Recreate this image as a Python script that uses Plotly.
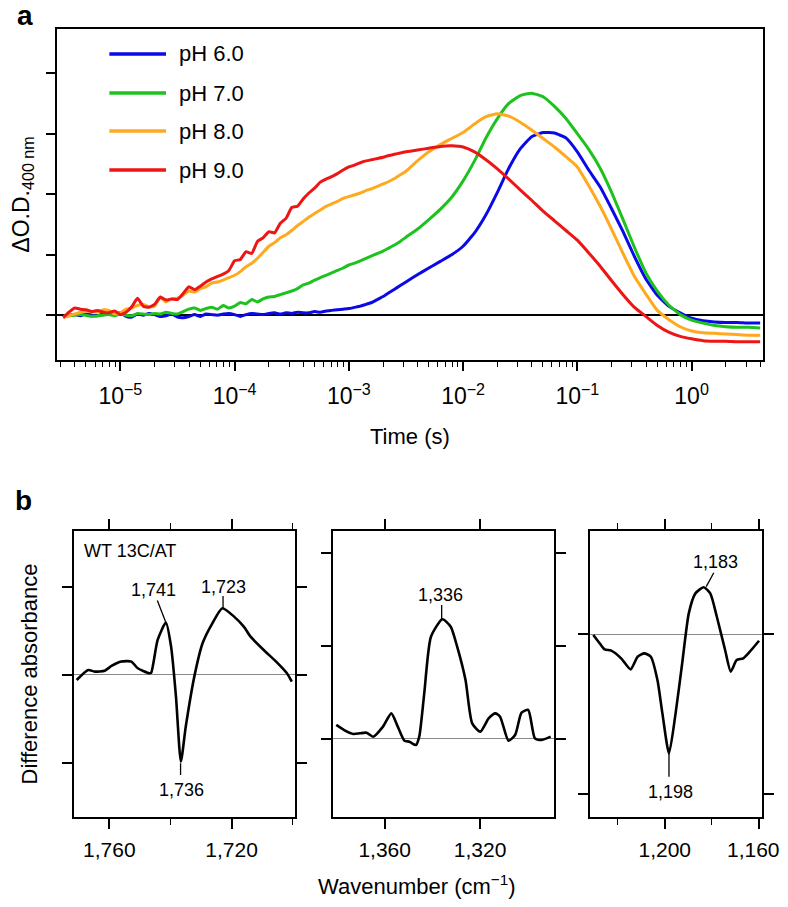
import plotly.graph_objects as go

# ---------------- Panel a data ----------------
LOG_TIME = [-5.50, -5.45, -5.40, -5.35, -5.30, -5.25, -5.20, -5.15, -5.10, -5.05,
            -5.00, -4.95, -4.90, -4.85, -4.80, -4.75, -4.70, -4.65, -4.60, -4.55,
            -4.50, -4.45, -4.40, -4.35, -4.30, -4.25, -4.20, -4.15, -4.10, -4.05,
            -4.00, -3.95, -3.90, -3.85, -3.80, -3.75, -3.70, -3.65, -3.60, -3.55,
            -3.50, -3.45, -3.40, -3.35, -3.30, -3.25, -3.20, -3.15, -3.10, -3.05,
            -3.00, -2.95, -2.90, -2.85, -2.80, -2.75, -2.70, -2.65, -2.60, -2.55,
            -2.50, -2.4, -2.3, -2.2, -2.1, -2.0, -1.9, -1.8, -1.7, -1.6,
            -1.5, -1.4, -1.3, -1.2, -1.1, -1.0, -0.9, -0.8, -0.7, -0.6,
            -0.5, -0.4, -0.3, -0.2, -0.1, 0.0, 0.1, 0.2, 0.3, 0.4,
            0.5, 0.6]
TIME_S = [10 ** v for v in LOG_TIME]

PH6 = [-0.02, 0.00, 0.01, -0.01, 0.02, 0.00, -0.01, 0.02, 0.03, 0.01,
       0.04, -0.02, -0.03, 0.02, 0.00, 0.03, 0.01, -0.02, -0.01, 0.02,
       -0.03, -0.04, -0.02, 0.01, -0.02, 0.02, 0.01, 0.00, 0.02, 0.03,
       0.01, -0.02, 0.01, 0.03, 0.02, 0.01, 0.03, 0.04, 0.02, 0.04,
       0.03, 0.05, 0.04, 0.04, 0.06, 0.05, 0.07, 0.08, 0.09, 0.10,
       0.11, 0.13, 0.15, 0.18, 0.21, 0.26, 0.31, 0.37, 0.43, 0.49,
       0.55, 0.67, 0.78, 0.89, 1.00, 1.14, 1.36, 1.66, 2.03, 2.43,
       2.75, 2.95, 3.02, 3.01, 2.93, 2.70, 2.40, 2.12, 1.76, 1.38,
       0.97, 0.60, 0.33, 0.15, 0.04, -0.05, -0.09, -0.11, -0.12, -0.12,
       -0.13, -0.13]
PH7 = [-0.02, -0.01, 0.00, 0.01, 0.00, -0.02, -0.01, 0.00, 0.01, -0.01,
       0.02, 0.00, -0.01, 0.03, 0.02, 0.01, 0.03, 0.02, 0.05, 0.03,
       0.02, 0.06, 0.10, 0.12, 0.08, 0.11, 0.13, 0.10, 0.16, 0.12,
       0.15, 0.21, 0.19, 0.26, 0.22, 0.27, 0.30, 0.31, 0.34, 0.37,
       0.40, 0.44, 0.50, 0.53, 0.58, 0.62, 0.66, 0.70, 0.74, 0.78,
       0.83, 0.86, 0.90, 0.94, 0.98, 1.02, 1.06, 1.11, 1.16, 1.22,
       1.29, 1.42, 1.58, 1.75, 1.95, 2.22, 2.55, 2.93, 3.25, 3.50,
       3.63, 3.67, 3.61, 3.45, 3.25, 3.00, 2.74, 2.43, 2.03, 1.58,
       1.12, 0.70, 0.40, 0.17, 0.01, -0.08, -0.13, -0.17, -0.19, -0.20,
       -0.20, -0.21]
PH8 = [-0.04, -0.01, 0.02, 0.05, 0.07, 0.06, 0.05, 0.09, 0.08, 0.02,
       0.04, 0.10, 0.12, 0.16, 0.18, 0.14, 0.15, 0.30, 0.22, 0.27,
       0.28, 0.33, 0.40, 0.38, 0.44, 0.47, 0.53, 0.55, 0.58, 0.62,
       0.66, 0.72, 0.80, 0.86, 0.94, 1.04, 1.14, 1.20, 1.28, 1.33,
       1.40, 1.48, 1.55, 1.62, 1.68, 1.74, 1.80, 1.84, 1.88, 1.93,
       1.96, 1.99, 2.02, 2.06, 2.09, 2.13, 2.17, 2.21, 2.26, 2.32,
       2.38, 2.55, 2.70, 2.82, 2.92, 3.02, 3.16, 3.28, 3.33, 3.29,
       3.19, 3.06, 2.92, 2.78, 2.62, 2.45, 2.14, 1.80, 1.42, 1.02,
       0.64, 0.35, 0.08, -0.07, -0.19, -0.26, -0.29, -0.30, -0.31, -0.32,
       -0.33, -0.33]
PH9 = [-0.04, 0.05, 0.12, 0.10, 0.09, 0.06, 0.08, 0.05, 0.04, 0.07,
       0.01, 0.05, 0.14, 0.28, 0.15, 0.13, 0.18, 0.30, 0.25, 0.27,
       0.26, 0.36, 0.47, 0.42, 0.48, 0.55, 0.60, 0.64, 0.68, 0.74,
       0.90, 0.92, 1.05, 1.02, 1.22, 1.28, 1.38, 1.36, 1.52, 1.60,
       1.78, 1.80, 1.92, 2.02, 2.10, 2.20, 2.25, 2.29, 2.34, 2.40,
       2.45, 2.48, 2.52, 2.55, 2.57, 2.59, 2.61, 2.64, 2.66, 2.68,
       2.70, 2.73, 2.76, 2.79, 2.80, 2.78, 2.70, 2.57, 2.42, 2.25,
       2.07, 1.90, 1.72, 1.56, 1.40, 1.24, 1.03, 0.81, 0.57, 0.34,
       0.13, -0.02, -0.17, -0.28, -0.35, -0.39, -0.42, -0.43, -0.43, -0.44,
       -0.44, -0.44]

SERIES_NAMES = ["pH 6.0", "pH 7.0", "pH 8.0", "pH 9.0"]
SERIES_COLORS = ["#0a0ae6", "#1ec21e", "#ffaa1e", "#ee1515"]
TIME_TICKS = [1e-5, 1e-4, 1e-3, 1e-2, 1e-1, 1e0]
TIME_TICK_TEXT = ["10<sup>−5</sup>", "10<sup>−4</sup>", "10<sup>−3</sup>",
                  "10<sup>−2</sup>", "10<sup>−1</sup>", "10<sup>0</sup>"]

# ---------------- Panel b data ----------------
WN1 = [1770.7, 1766.9, 1764.8, 1761.5, 1759.3, 1756.1, 1752.8, 1750.7, 1746.9,
       1746.3, 1744.2, 1741.5, 1739.8, 1738.2, 1736.6, 1735.0, 1732.2, 1729.5,
       1726.3, 1723.0, 1719.2, 1716.0, 1713.8, 1709.5, 1705.1, 1701.9, 1700.3]
ABS1 = [-0.057, 0.057, 0.038, 0.049, 0.102, 0.152, 0.152, 0.076, 0.019,
        0.027, 0.398, 0.595, 0.322, -0.246, -0.985, -0.587, -0.019, 0.360,
        0.587, 0.758, 0.663, 0.549, 0.436, 0.284, 0.140, 0.019, -0.076]

WN2 = [1380.3, 1376.6, 1373.1, 1370.4, 1367.6, 1364.8, 1360.7, 1357.2, 1354.5,
       1351.7, 1349.6, 1346.9, 1345.5, 1343.4, 1340.6, 1335.8, 1332.3, 1329.6,
       1326.1, 1323.3, 1319.9, 1316.4, 1313.6, 1311.6, 1308.1, 1305.3, 1302.6,
       1299.8, 1297.0, 1294.3, 1290.4]
ABS2 = [0.151, 0.090, 0.054, 0.061, 0.068, 0.025, 0.133, 0.276, 0.133,
        -0.018, -0.029, -0.065, 0.025, 0.491, 1.100, 1.287, 1.208, 0.993,
        0.634, 0.168, 0.079, 0.222, 0.276, 0.240, -0.018, 0.043, 0.283,
        0.312, 0.007, -0.011, 0.025]

WN3 = [1230.3, 1227.6, 1225.5, 1222.7, 1218.5, 1214.5, 1211.5, 1208.7, 1205.9,
       1203.1, 1201.0, 1198.2, 1195.4, 1192.6, 1189.8, 1187.0, 1183.5, 1180.7,
       1177.9, 1174.4, 1172.0, 1169.5, 1166.7, 1163.9, 1160.0]
ABS3 = [-0.006, -0.058, -0.096, -0.104, -0.152, -0.221, -0.142, -0.121, -0.142,
        -0.288, -0.496, -0.746, -0.496, -0.183, 0.129, 0.254, 0.292, 0.254,
        0.108, -0.100, -0.235, -0.163, -0.152, -0.110, -0.042]

# page is 788x907; the html body has an 8px margin on every side
OFF = 8
W, H = 788 - 2 * OFF, 907 - 2 * OFF
FONT = "Liberation Sans, Arial, Helvetica, sans-serif"


def px_x(p):
    return (p - OFF) / W


def px_y(p):
    return 1 - (p - OFF) / H


fig = go.Figure()

# Panel a traces
for name, color, vals in zip(SERIES_NAMES, SERIES_COLORS, [PH6, PH7, PH8, PH9]):
    fig.add_trace(go.Scatter(x=TIME_S, y=vals, mode="lines", name=name,
                             line=dict(color=color, width=3, shape="spline", smoothing=0.4),
                             xaxis="x", yaxis="y", showlegend=False))

# Panel b traces
for i, (wn, ab) in enumerate([(WN1, ABS1), (WN2, ABS2), (WN3, ABS3)]):
    fig.add_trace(go.Scatter(x=wn, y=ab, mode="lines", name=f"panel b{i+1}",
                             line=dict(color="black", width=2.6, shape="spline", smoothing=0.6),
                             xaxis=f"x{i+2}", yaxis=f"y{i+2}", showlegend=False))

minor_time = [m * 10 ** d for d in range(-6, 1) for m in range(2, 10)
              if 2.8e-6 < m * 10 ** d < 4.2]

axis_common = dict(showline=True, linecolor="black", linewidth=1.6,
                   ticks="outside", tickcolor="black", tickwidth=1.5,
                   showgrid=False, zeroline=False,
                   tickfont=dict(family=FONT, size=21, color="black"))

layout = dict(
    width=W, height=H,
    margin=dict(l=0, r=0, t=0, b=0),
    paper_bgcolor="white", plot_bgcolor="white",
    font=dict(family=FONT, color="black"),
    xaxis=dict(axis_common, type="log", domain=[px_x(52), px_x(763)],
               range=[-5.557, 0.626], mirror=True, ticklen=9,
               tickvals=TIME_TICKS, ticktext=TIME_TICK_TEXT,
               tickfont=dict(family=FONT, size=23, color="black"),
               ticklabelstandoff=6,
               minor=dict(tickvals=minor_time, ticks="outside", ticklen=5,
                          tickcolor="black", tickwidth=1.2, showgrid=False),
               title=dict(text="Time (s)", font=dict(family=FONT, size=22), standoff=20),
               anchor="y"),
    yaxis=dict(axis_common, domain=[px_y(360), px_y(29)], range=[-0.74, 4.73],
               mirror=True, ticklen=9, tickvals=[0, 1, 2, 3, 4], showticklabels=False,
               zeroline=True, zerolinecolor="black", zerolinewidth=1.5,
               title=dict(text="ΔO.D.<sub>400 nm</sub>", font=dict(family=FONT, size=23), standoff=24),
               anchor="x"),
)

panels = [
    (2, 69, 292, [1771.7, 1699.2], [1760, 1720], ["1,760", "1,720"], 20,
     [-1.614, 1.636], [-1, 0, 1]),
    (3, 330, 553, [1381.7, 1288.8], [1360, 1320], ["1,360", "1,320"], None,
     [-0.839, 2.237], [0, 1, 2]),
    (4, 589, 762, [1231.6, 1158.7], [1200, 1160], ["1,200", ""], 20,
     [-1.144, 0.644], [-1, 0]),
]
for idx, x0, x1, xr, tv, tt, mdt, yr, ytv in panels:
    xa = dict(axis_common, domain=[px_x(x0), px_x(x1)], range=xr, mirror="allticks",
              ticklen=10, tickvals=tv, ticktext=tt, ticklabelstandoff=3, anchor=f"y{idx}")
    if mdt:
        xa["minor"] = dict(dtick=mdt, tick0=1160, ticks="outside", ticklen=6,
                           tickcolor="black", tickwidth=1.3, showgrid=False)
    ya = dict(axis_common, domain=[px_y(817), px_y(531)], range=yr, mirror="allticks",
              ticklen=10, tickvals=ytv, showticklabels=False,
              zeroline=True, zerolinecolor="#8a8a8a", zerolinewidth=1.2,
              anchor=f"x{idx}")
    if idx == 2:
        ya["title"] = dict(text="Difference absorbance", font=dict(family=FONT, size=22), standoff=18)
    layout[f"xaxis{idx}"] = xa
    layout[f"yaxis{idx}"] = ya

fig.update_layout(**layout)

annotations = []
shapes = []

# "1,160" tick label: placed at its tick, nudged left so it stays inside the page
annotations.append(dict(text="1,160", xref="x4", yref="paper", x=1160, y=px_y(849),
                        xanchor="center", yanchor="middle", xshift=-6, showarrow=False,
                        font=dict(family=FONT, size=21, color="black")))

# Legend (drawn manually to match long sample lines)
legend_y = [54, 93, 131, 170]
for name, color, ly in zip(SERIES_NAMES, SERIES_COLORS, legend_y):
    shapes.append(dict(type="line", xref="paper", yref="paper",
                       x0=px_x(105), x1=px_x(162), y0=px_y(ly), y1=px_y(ly),
                       line=dict(color=color, width=3.5)))
    annotations.append(dict(text=name, xref="paper", yref="paper", x=px_x(173), y=px_y(ly),
                            xanchor="left", yanchor="middle", showarrow=False,
                            font=dict(family=FONT, size=22, color="black")))

# Panel letters
annotations.append(dict(text="<b>a</b>", xref="paper", yref="paper", x=px_x(10), y=px_y(16),
                        xanchor="left", yanchor="middle", showarrow=False,
                        font=dict(family=FONT, size=28, color="black")))
annotations.append(dict(text="<b>b</b>", xref="paper", yref="paper", x=px_x(8), y=px_y(500),
                        xanchor="left", yanchor="middle", showarrow=False,
                        font=dict(family=FONT, size=28, color="black")))

# Shared x title for panel b
annotations.append(dict(text="Wavenumber (cm<sup>−1</sup>)", xref="paper", yref="paper",
                        x=px_x(415), y=px_y(885), xanchor="center", yanchor="middle",
                        showarrow=False, font=dict(family=FONT, size=22, color="black")))

# Panel b labels
annotations.append(dict(text="WT 13C/AT", xref="x2", yref="y2", x=1768.8, y=1.41,
                        xanchor="left", yanchor="middle", showarrow=False,
                        font=dict(family=FONT, size=18, color="black")))

peak_labels = [
    ("x2", "y2", "1,741", 1745.4, 0.966, (1744.3, 0.845, 1741.6, 0.606)),
    ("x2", "y2", "1,723", 1722.6, 1.000, (1722.8, 0.898, 1722.8, 0.758)),
    ("x2", "y2", "1,736", 1736.3, -1.307, (1736.7, -1.003, 1736.7, -1.136)),
    ("x3", "y3", "1,336", 1336.7, 1.548, (1336.1, 1.441, 1336.1, 1.287)),
    ("x4", "y4", "1,183", 1178.5, 0.450, (1179.2, 0.383, 1182.4, 0.296)),
    ("x4", "y4", "1,198", 1197.5, -0.9875, (1198.2, -0.746, 1198.2, -0.892)),
]
for xr_, yr_, txt, tx, ty, (lx0, ly0, lx1, ly1) in peak_labels:
    annotations.append(dict(text=txt, xref=xr_, yref=yr_, x=tx, y=ty,
                            xanchor="center", yanchor="middle", showarrow=False,
                            font=dict(family=FONT, size=18, color="black")))
    shapes.append(dict(type="line", xref=xr_, yref=yr_, x0=lx0, y0=ly0, x1=lx1, y1=ly1,
                       line=dict(color="black", width=1.3)))

fig.update_layout(annotations=annotations, shapes=shapes)

fig.write_html("out.html")
